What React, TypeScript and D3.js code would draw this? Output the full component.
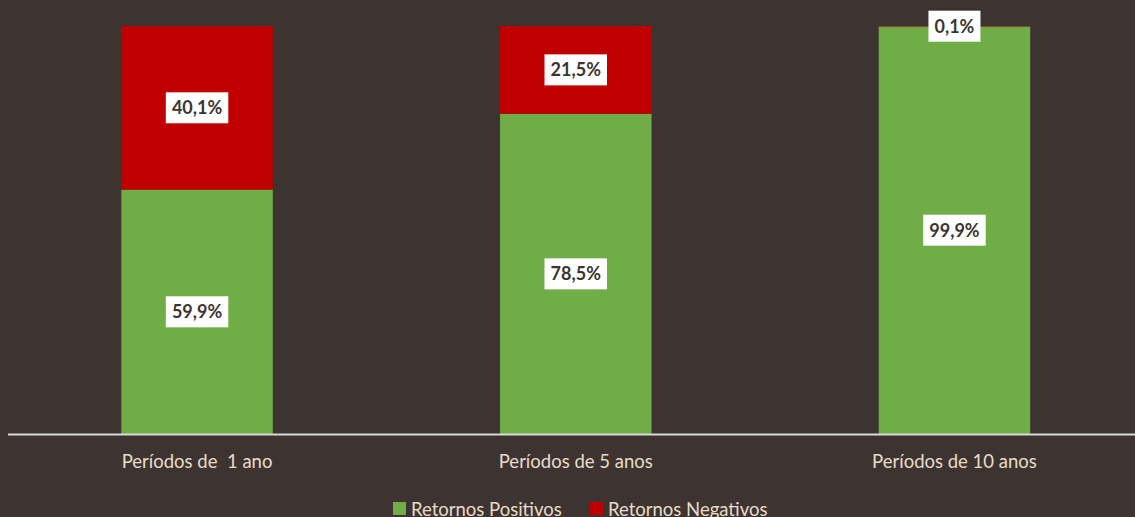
import React from "react";
import * as d3 from "d3";

const categories = ["Períodos de  1 ano", "Períodos de 5 anos", "Períodos de 10 anos"];
const positivos = [59.9, 78.5, 99.9];
const negativos = [40.1, 21.5, 0.1];
const seriesNames = ["Retornos Positivos", "Retornos Negativos"];
const seriesColors = ["#70AD47", "#C00000"];

const W = 1135;
const H = 517;
const BG = "#3D3432";
const FONT = "Lato, 'Open Sans', sans-serif";

function fmt(v: number) {
  return v.toFixed(1).replace(".", ",") + "%";
}

function Label({ x, y, text }: { x: number; y: number; text: string }) {
  const w = text.length * 10.5 + 10;
  const h = 31;
  return (
    <g>
      <rect x={x - w / 2} y={y - h / 2} width={w} height={h} fill="#FFFFFF" />
      <text x={x} y={y + 6.5} textAnchor="middle" fontFamily={FONT} fontWeight="bold" fontSize={18} fill="#3D3432">
        {text}
      </text>
    </g>
  );
}

export default function App() {
  const x = d3.scaleBand<string>().domain(categories).range([7.7, 1143.8]).paddingInner(0.6).paddingOuter(0.3);
  const y = d3.scaleLinear().domain([0, 100]).range([434, 26]);

  const rows = categories.map((c, i) => ({ c, pos: positivos[i], neg: negativos[i] }));
  const stack = d3.stack<any>().keys(["pos", "neg"])(rows);

  return (
    <svg width={W} height={H} style={{ position: "absolute", left: 0, top: 0, background: BG }}>
      <rect x={0} y={0} width={W} height={H} fill={BG} />
      {stack.map((layer, si) => (
        <g key={si}>
          {layer.map((d, i) => (
            <rect
              key={i}
              x={x(categories[i])}
              y={y(d[1])}
              width={x.bandwidth()}
              height={y(d[0]) - y(d[1])}
              fill={seriesColors[si]}
            />
          ))}
        </g>
      ))}
      <line x1={8} x2={W} y1={434.5} y2={434.5} stroke="#D9D9D9" strokeWidth={2} />
      {stack.map((layer, si) =>
        layer.map((d, i) => {
          const cx = (x(categories[i]) as number) + x.bandwidth() / 2;
          const cy = (y(d[0]) + y(d[1])) / 2;
          const v = si === 0 ? positivos[i] : negativos[i];
          return <Label key={si + "-" + i} x={cx} y={cy} text={fmt(v)} />;
        })
      )}
      {categories.map((c, i) => (
        <text
          key={c}
          x={(x(c) as number) + x.bandwidth() / 2}
          y={468}
          textAnchor="middle"
          fontFamily={FONT}
          fontSize={18.5}
          fill="#E8DCC8"
          style={{ whiteSpace: "pre" }}
        >
          {c}
        </text>
      ))}
      <g>
        <rect x={393} y={502} width={13} height={13} fill={seriesColors[0]} />
        <text x={411} y={516} fontFamily={FONT} fontSize={18.5} fill="#E8DCC8">{seriesNames[0]}</text>
        <rect x={590} y={502} width={13} height={13} fill={seriesColors[1]} />
        <text x={608} y={516} fontFamily={FONT} fontSize={18.5} fill="#E8DCC8">{seriesNames[1]}</text>
      </g>
    </svg>
  );
}
